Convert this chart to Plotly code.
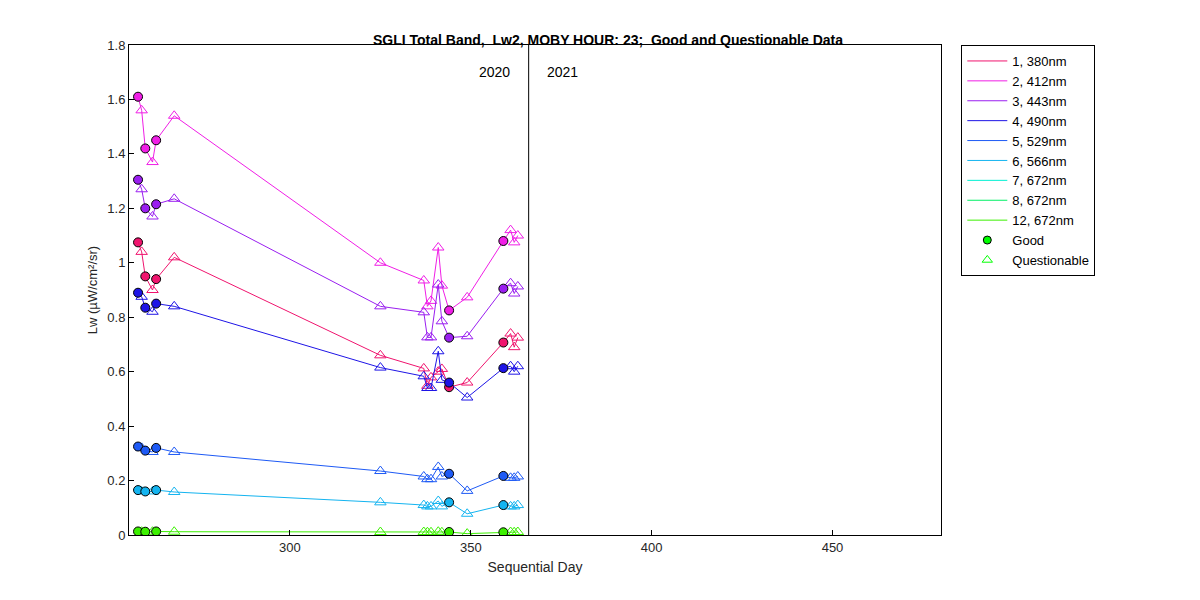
import plotly.graph_objects as go

days = [258, 259, 260, 262, 263, 268, 325, 337, 338, 339, 341, 342, 344, 349, 359, 361, 362, 363]
good = [1, 0, 1, 0, 1, 0, 0, 0, 0, 0, 0, 0, 1, 0, 1, 0, 0, 0]

band_names = ["1, 380nm", "2, 412nm", "3, 443nm", "4, 490nm", "5, 529nm",
              "6, 566nm", "7, 672nm", "8, 672nm", "12, 672nm"]
band_colors = ["#f0146e", "#f01ee6", "#9a1ef0", "#1e14e6", "#1e5af5",
               "#14b4f0", "#00f0d2", "#00f064", "#3cf000"]

lw_380 = [1.075, 1.04, 0.95, 0.90, 0.94, 1.02, 0.66, 0.612, 0.548, 0.579, 0.60, 0.61,
          0.543, 0.56, 0.707, 0.74, 0.69, 0.725]
lw_412 = [1.61, 1.56, 1.42, 1.37, 1.45, 1.54, 1.0, 0.935, 0.84, 0.86, 1.056, 0.916,
          0.825, 0.873, 1.08, 1.12, 1.075, 1.10]
lw_443 = [1.305, 1.27, 1.2, 1.17, 1.215, 1.235, 0.84, 0.818, 0.726, 0.726, 0.92, 0.785,
          0.725, 0.73, 0.905, 0.925, 0.887, 0.913]
lw_490 = [0.89, 0.875, 0.835, 0.82, 0.85, 0.84, 0.615, 0.583, 0.54, 0.54, 0.675, 0.57,
          0.56, 0.505, 0.613, 0.62, 0.60, 0.62]
lw_529 = [0.325, 0.32, 0.31, 0.305, 0.32, 0.305, 0.235, 0.215, 0.205, 0.205, 0.25, 0.215,
          0.225, 0.162, 0.217, 0.21, 0.21, 0.215]
lw_566 = [0.165, 0.16, 0.16, 0.16, 0.165, 0.158, 0.12, 0.11, 0.105, 0.105, 0.125, 0.105,
          0.12, 0.078, 0.11, 0.105, 0.105, 0.11]
lw_672 = [0.013, 0.012, 0.012, 0.012, 0.013, 0.012, 0.011, 0.011, 0.01, 0.01, 0.012, 0.01,
          0.011, 0.005, 0.01, 0.011, 0.01, 0.011]

band_data = [lw_380, lw_412, lw_443, lw_490, lw_529, lw_566, None, None, lw_672]

fig = go.Figure()

# legend lines first
for name, col in zip(band_names, band_colors):
    fig.add_trace(go.Scatter(x=[None], y=[None], mode="lines", name=name,
                             line=dict(color=col, width=1)))
fig.add_trace(go.Scatter(x=[None], y=[None], mode="markers", name="Good",
                         marker=dict(symbol="circle", size=8, color="#00ff00",
                                     line=dict(color="black", width=1))))
fig.add_trace(go.Scatter(x=[None], y=[None], mode="markers", name="Questionable",
                         marker=dict(symbol="triangle-up-open", size=9, color="#00ff00")))

for vals, col in zip(band_data, band_colors):
    if vals is None:
        continue
    fig.add_trace(go.Scatter(x=days, y=vals, mode="lines", showlegend=False,
                             line=dict(color=col, width=1)))
    qx = [d for d, g in zip(days, good) if not g]
    qy = [v for v, g in zip(vals, good) if not g]
    gx = [d for d, g in zip(days, good) if g]
    gy = [v for v, g in zip(vals, good) if g]
    fig.add_trace(go.Scatter(x=qx, y=qy, mode="markers", showlegend=False,
                             marker=dict(symbol="triangle-up-open", size=10, color=col)))
    fig.add_trace(go.Scatter(x=gx, y=gy, mode="markers", showlegend=False,
                             marker=dict(symbol="circle", size=9, color=col,
                                         line=dict(color="black", width=1))))

fig.add_shape(type="line", xref="x", yref="paper", x0=366, x1=366, y0=0, y1=1,
              line=dict(color="black", width=1))
fig.add_annotation(x=361.5, y=0.965, xref="x", yref="paper", text="2020", xanchor="right",
                   showarrow=False, font=dict(size=14, color="black"))
fig.add_annotation(x=370.5, y=0.965, xref="x", yref="paper", text="2021", xanchor="left",
                   showarrow=False, font=dict(size=14, color="black"))

axis_style = dict(showline=True, linecolor="black", mirror=True, ticks="inside",
                  ticklen=5, tickcolor="black", showgrid=False, zeroline=False,
                  tickfont=dict(size=13, color="#262626"))
fig.update_xaxes(range=[255.5, 480], dtick=50, tick0=300,
                 title=dict(text="Sequential Day", font=dict(size=14, color="#262626"), standoff=8),
                 **axis_style)
fig.update_yaxes(range=[0, 1.8], dtick=0.2,
                 title=dict(text="Lw (µW/cm²/sr)", font=dict(size=13, color="#262626"), standoff=6),
                 **axis_style)

fig.update_layout(
    width=1200, height=600,
    paper_bgcolor="white", plot_bgcolor="white",
    font=dict(family="Liberation Sans, Arial", color="black"),
    title=dict(text="<b>SGLI Total Band,  Lw2, MOBY HOUR: 23;  Good and Questionable Data</b>",
               x=0.5, xanchor="center", y=0.955, font=dict(size=14)),
    margin=dict(l=121, r=267, t=37, b=73),
    legend=dict(x=1.025, y=1.0, xanchor="left", yanchor="top", bordercolor="black",
                borderwidth=1, font=dict(size=13), tracegroupgap=0, itemwidth=40),
)

fig.write_html("out.html")
